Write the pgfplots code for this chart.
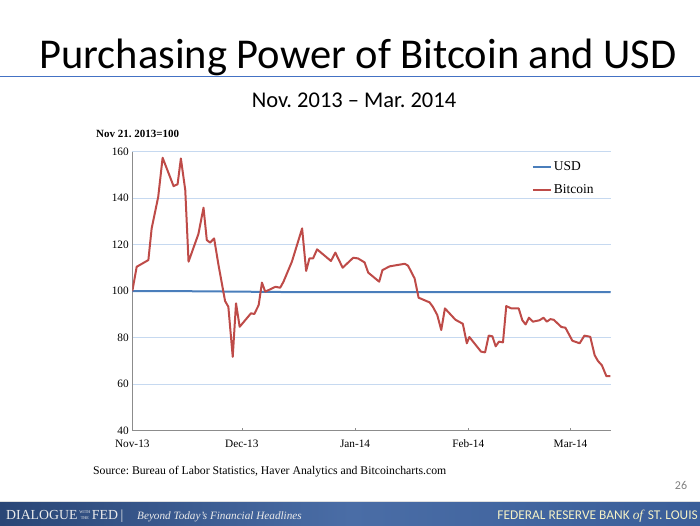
\documentclass[border=0pt]{standalone}
\usepackage{fontspec}
\setmainfont{Liberation Serif}
\newfontfamily\calibri{Carlito}
\usepackage{pgfplots}
\pgfplotsset{compat=1.18}
\definecolor{usdblue}{HTML}{4A7EBB}
\definecolor{btcred}{HTML}{BE4B48}
\definecolor{gridblue}{HTML}{C6D9F0}
\definecolor{axisgray}{HTML}{8C8C8C}
\definecolor{footA}{HTML}{2A4676}
\definecolor{footB}{HTML}{3A5E99}
\definecolor{footM}{HTML}{4A6DA6}
\definecolor{titleline}{HTML}{4472C4}
\frenchspacing
\begin{document}
\begin{tikzpicture}
\begin{scope}[x=1pt,y=1pt]
\path[use as bounding box] (0,0) rectangle (700,-525);
% title
\node[anchor=base, font=\calibri\fontsize{42.5}{46}\selectfont, inner sep=0pt] at (358,-68.3) {Purchasing Power of Bitcoin and USD};
\draw[titleline, line width=1.5pt] (0,-76.7) -- (700,-76.7);
\node[anchor=base, font=\calibri\fontsize{22.5}{26}\selectfont, inner sep=0pt] at (354,-107.3) {Nov. 2013 – Mar. 2014};
% y unit label
\node[anchor=base west, font=\bfseries\fontsize{11}{12}\selectfont, inner sep=0pt] at (96,-137.5) {Nov 21. 2013=100};
% source
\node[anchor=base west, font=\fontsize{11.75}{13}\selectfont, inner sep=0pt] at (93,-474.5) {Source: Bureau of Labor Statistics, Haver Analytics and Bitcoincharts.com};
% page number
\node[anchor=base, font=\calibri\fontsize{12}{14}\selectfont, text=gray, inner sep=0pt] at (681,-489) {26};
% footer
\fill[gray!25] (0,-500.8) rectangle (700,-502.3);
\shade[left color=footA, right color=footB, middle color=footM] (0,-502.3) rectangle (700,-525);
\node[anchor=base west, font=\fontsize{13.8}{15}\selectfont, text=white!92!black, inner sep=0pt] at (6,-519.5) {DIALOGUE\hspace{2pt}\raisebox{0pt}{\fontsize{4.2}{5.4}\selectfont\shortstack{WITH\\THE}}\hspace{1.5pt}FED\hspace{2.5pt}\textbar};
\node[anchor=base west, font=\itshape\fontsize{11.2}{13}\selectfont, text=white!92!black, inner sep=0pt] at (137,-519.5) {Beyond Today's Financial Headlines};
\node[anchor=base east, font=\calibri\fontsize{13.4}{14}\selectfont, text=white!80!yellow!95!black, inner sep=0pt] at (698,-519.5) {FEDERAL RESERVE BANK \textit{\rmfamily of} ST. LOUIS};
\end{scope}
\begin{axis}[
  at={(132.3pt,-430.7pt)}, anchor=south west,
  scale only axis, width=478.4pt, height=279pt,
  xmin=0, xmax=131, ymin=40, ymax=160,
  ytick={40,60,...,160},
  xtick={0,30,61,92,120},
  xticklabels={Nov-13,Dec-13,Jan-14,Feb-14,Mar-14},
  axis x line*=bottom, axis y line*=left,
  axis line style={axisgray, line width=0.8pt, -},
  ymajorgrids, grid style={gridblue, line width=1pt},
  tick label style={font=\fontsize{11.3}{13}\selectfont},
  xticklabel style={anchor=base, yshift=-16.8pt},
  /pgf/number format/assume math mode=true,
  ytick style={draw=none},
  xtick style={axisgray, line width=0.6pt},
  tick align=inside, major tick length=3pt,
  legend style={at={(0.835,0.972)}, anchor=north west, draw=none, fill=none,
    font=\fontsize{13.5}{15}\selectfont, row sep=8.5pt, inner sep=0pt},
  legend cell align=left,
  legend image code/.code={\draw[#1] (0pt,0pt) -- (18pt,0pt);},
]
\addplot[usdblue, line width=2pt] coordinates {
(0,100) (15,100) (30,99.8) (45,99.6) (61,99.6) (92,99.6) (120,99.6) (131,99.6)
};
\addlegendentry{USD}
\addplot[btcred, line width=2pt, line join=round] coordinates {
(0,100) (1.2,110.5) (4.4,113.4) (5.3,127) (7.1,140.6) (8.3,157.4)
(11.3,145.2) (12.4,146) (13.3,157.1) (14.5,143.5) (15.4,112.7)
(18.1,124.6) (19.5,135.9) (20.4,122) (21.3,120.9) (22.4,122.7)
(23.6,111.3) (25.4,95.8) (26.3,93.3) (27.5,71.8) (28.4,94.8)
(29.4,84.7) (32.5,90.5) (33.4,90.2) (34.6,94) (35.5,103.7)
(36.4,99.8) (39.2,101.9) (40.5,101.5) (41.4,104.1) (43.7,112.7)
(46.5,127) (47.6,108.7) (48.5,114.1) (49.5,114.1) (50.6,118)
(54.4,113) (55.6,116.6) (57.6,110.1) (60.5,114.4) (61.8,114.1)
(63.6,112.4) (64.6,108) (67.6,104.1) (68.5,109.1) (70.5,110.7)
(74.6,111.8) (75.5,111) (77.3,105.5) (78.4,97.2) (81.4,95.2)
(82.3,93.3) (83.5,89.8) (84.6,83.3) (85.6,92.6) (88.5,87.7)
(90.5,86) (91.6,77.6) (92.3,80.3) (95.5,74) (96.6,73.7)
(97.6,80.9) (98.6,80.6) (99.5,76.3) (100.4,78.3) (101.5,78)
(102.4,93.6) (103.8,92.6) (105.8,92.6) (106.8,87.5) (107.7,85.7)
(108.6,88.6) (109.7,86.9) (111.5,87.5) (112.6,88.6) (113.5,86.9)
(114.5,88) (115.4,87.7) (117.5,84.6) (118.6,84.3) (120.5,78.7)
(122.5,77.6) (123.8,80.9) (125.4,80.4) (126.6,72.5) (127.5,70)
(128.6,68.1) (129.8,63.5) (130.9,63.5)
};
\addlegendentry{Bitcoin}
\end{axis}
\end{tikzpicture}
\end{document}
